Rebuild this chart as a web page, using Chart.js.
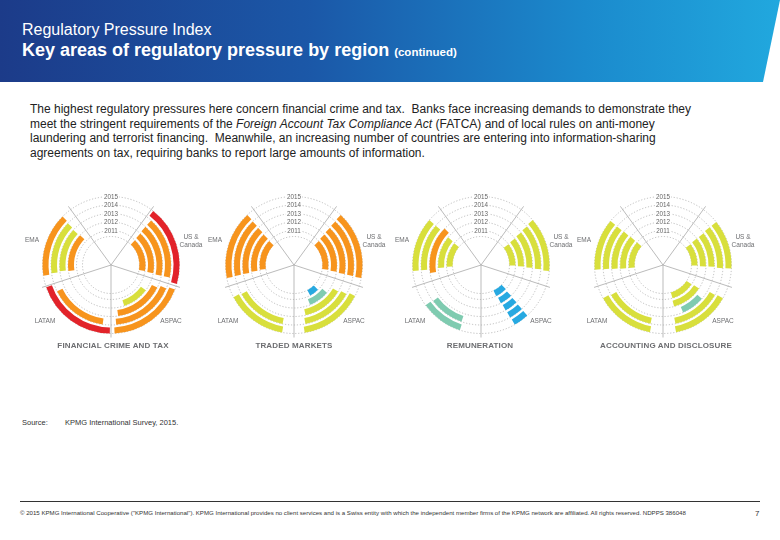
<!DOCTYPE html>
<html>
<head>
<meta charset="utf-8">
<title>Regulatory Pressure Index</title>
<script src="https://cdn.jsdelivr.net/npm/chart.js@4.4.1/dist/chart.umd.min.js"></script>
<style>
  body { margin: 0; background: #fff; font-family: "Liberation Sans", Arial, sans-serif; }
  #page { position: relative; width: 780px; height: 540px; overflow: hidden; }
  .banner { position: absolute; left: 0; top: 0; width: 780px; height: 82px;
    background: linear-gradient(90deg, #1c3b89 0%, #1b58a8 40%, #1b8acd 75%, #21a8de 100%);
    clip-path: polygon(0 0, 780px 0, 763px 82px, 0 82px); }
  .kicker { position: absolute; left: 22px; top: 21px; color: #fff; font-size: 16px; white-space: nowrap; }
  .title { position: absolute; left: 22px; top: 40px; color: #fff; font-size: 18px; font-weight: bold; white-space: nowrap; }
  .title small { font-size: 11.5px; }
  .intro { position: absolute; left: 30px; top: 102px; font-size: 12px; line-height: 14.7px; color: #222; white-space: nowrap; }
  canvas.wheel { position: absolute; }
  .region { position: absolute; font-size: 6.5px; line-height: 8.5px; color: #6d6e71; text-align: center; transform: translate(-50%, -50%); white-space: nowrap; }
  .wheel-title { position: absolute; top: 341px; font-size: 8px; font-weight: bold; color: #6d6e71; transform: translateX(-50%); white-space: nowrap; letter-spacing: 0.15px; }
  .source { position: absolute; top: 418px; font-size: 7.5px; color: #333; white-space: nowrap; }
  .rule { position: absolute; left: 20px; top: 501px; width: 740px; height: 1px; background: #333; }
  .legal { position: absolute; left: 20px; top: 509px; font-size: 6.1px; color: #333; white-space: nowrap; }
  .pageno { position: absolute; left: 755px; top: 509px; font-size: 8px; color: #333; }
</style>
</head>
<body>
<div id="page">
  <div class="banner"></div>
  <div class="kicker">Regulatory Pressure Index</div>
  <div class="title">Key areas of regulatory pressure by region <small>(continued)</small></div>
  <div class="intro">
    The highest regulatory pressures here concern financial crime and tax.&nbsp; Banks face increasing demands to demonstrate they<br>
    meet the stringent requirements of the <i>Foreign Account Tax Compliance Act</i> (FATCA) and of local rules on anti-money<br>
    laundering and terrorist financing.&nbsp; Meanwhile, an increasing number of countries are entering into information-sharing<br>
    agreements on tax, requiring banks to report large amounts of information.
  </div>
  <div class="source" style="left:22px">Source:</div>
  <div class="source" style="left:65px">KPMG International Survey, 2015.</div>
  <div class="rule"></div>
  <div class="legal">© 2015 KPMG International Cooperative ("KPMG International"). KPMG International provides no client services and is a Swiss entity with which the independent member firms of the KPMG network are affiliated. All rights reserved. NDPPS 386048</div>
  <div class="pageno">7</div>
</div>
<script>
const years = ["2011", "2012", "2013", "2014", "2015"];
const regions = ["US &<br>Canada", "ASPAC", "LATAM", "EMA"];
const titles = ["FINANCIAL CRIME AND TAX", "TRADED MARKETS", "REMUNERATION", "ACCOUNTING AND DISCLOSURE"];

// pressure level per region (rows: US & Canada, ASPAC, LATAM, EMA) and year (2011..2015)
// 0 = no data, 1 = low ... 5 = very high
const crimeLevels = [[4, 4, 4, 4, 5], [0, 3, 4, 4, 4], [0, 0, 0, 4, 5], [0, 4, 3, 3, 4]];
const tradedLevels = [[4, 4, 4, 4, 4], [1, 2, 3, 3, 3], [0, 0, 0, 3, 3], [4, 4, 4, 4, 4]];
const remunerationLevels = [[3, 3, 3, 3, 3], [1, 1, 1, 1, 1], [0, 0, 0, 2, 2], [3, 3, 4, 3, 3]];
const accountingLevels = [[3, 3, 3, 3, 3], [3, 3, 2, 3, 3], [0, 0, 0, 3, 3], [3, 3, 3, 3, 3]];

// degrees of arc covered by each region/year segment (out of 72 per region)
const crimeArcs = [[56, 58, 60, 60, 68], [0, 36, 56, 62, 66], [0, 0, 0, 56, 70], [0, 52, 50, 52, 54]];
const tradedArcs = [[52, 54, 56, 57, 58], [16, 28, 46, 50, 54], [0, 0, 0, 50, 52], [52, 54, 56, 57, 58]];
const remunerationArcs = [[38, 40, 42, 44, 46], [20, 17, 15, 14, 13], [0, 0, 0, 34, 36], [42, 44, 54, 46, 46]];
const accountingArcs = [[38, 40, 40, 42, 42], [40, 42, 26, 48, 50], [0, 0, 0, 48, 50], [46, 46, 45, 44, 44]];

const levelColors = ["rgba(0,0,0,0)", "#27a9e1", "#7fcbb0", "#d8df3c", "#f7941d", "#e2232a"];
const none = "rgba(0,0,0,0)";

const wheelX = [111, 294, 481, 663];
const wheelY = 265;
const titleX = [113, 294, 480, 666];
const SECTOR = 72;   // top sector (year labels) + 4 regions

function ringRadii(chart) {
    const radii = [];
    chart.data.datasets.forEach((ds, i) => {
        if (ds.year) {
            const arc = chart.getDatasetMeta(i).data[0];
            radii.push({ year: ds.year, r: arc.outerRadius, inner: arc.innerRadius });
        }
    });
    return radii;
}

const ringGrid = {
    id: "ringGrid",
    beforeDatasetsDraw(chart) {
        const ctx = chart.ctx;
        const arc = chart.getDatasetMeta(0).data[0];
        const cx = arc.x, cy = arc.y;
        const radii = ringRadii(chart);
        const circles = radii.map(d => d.r);
        circles.push(Math.min(...radii.map(d => d.inner)));
        ctx.save();
        ctx.strokeStyle = "#a3a3a3";
        ctx.lineWidth = 0.7;
        ctx.setLineDash([1.2, 1.8]);
        circles.forEach(r => {
            ctx.beginPath();
            ctx.arc(cx, cy, r, 0, Math.PI * 2);
            ctx.stroke();
        });
        ctx.setLineDash([]);
        ctx.strokeStyle = "#a9a9a9";
        ctx.lineWidth = 0.8;
        const len = Math.max(...circles) + 4;
        for (let k = 0; k < 5; k++) {
            const a = (chart.options.rotation + k * SECTOR - 90) * Math.PI / 180;
            ctx.beginPath();
            ctx.moveTo(cx, cy);
            ctx.lineTo(cx + Math.cos(a) * len, cy + Math.sin(a) * len);
            ctx.stroke();
        }
        ctx.restore();
    },
    afterDatasetsDraw(chart) {
        const ctx = chart.ctx;
        const arc = chart.getDatasetMeta(0).data[0];
        const cx = arc.x, cy = arc.y;
        ctx.save();
        ctx.font = "6.3px 'Liberation Sans', Arial, sans-serif";
        ctx.textAlign = "center";
        ctx.textBaseline = "middle";
        ringRadii(chart).forEach(d => {
            const w = ctx.measureText(d.year).width + 2;
            ctx.fillStyle = "#fff";
            ctx.fillRect(cx - w / 2, cy - d.r - 3.2, w, 6.4);
            ctx.fillStyle = "#666";
            ctx.fillText(d.year, cx, cy - d.r + 0.3);
        });
        ctx.restore();
    }
};

function ringDataset(levels, arcs, y) {
    const data = [SECTOR];
    const colors = [none];
    levels.forEach((row, r) => {
        const span = row[y] ? arcs[r][y] : 0;
        const pad = (SECTOR - span) / 2;
        data.push(pad, span, pad);
        colors.push(none, levelColors[row[y]], none);
    });
    return { year: years[y], data: data, backgroundColor: colors, borderWidth: 0, weight: 6 };
}

function drawWheel(index, levels, arcs) {
    const page = document.getElementById("page");
    const canvas = document.createElement("canvas");
    canvas.className = "wheel";
    canvas.width = 190;
    canvas.height = 160;
    canvas.style.left = (wheelX[index] - 95) + "px";
    canvas.style.top = (wheelY - 80) + "px";
    page.appendChild(canvas);

    // outer ring first: 2015 ... 2011, with thin empty rings between them
    const datasets = [];
    for (let y = years.length - 1; y >= 0; y--) {
        datasets.push(ringDataset(levels, arcs, y));
        if (y > 0) datasets.push({ data: [360], backgroundColor: [none], borderWidth: 0, weight: 2.5 });
    }

    new Chart(canvas.getContext("2d"), {
        type: "doughnut",
        data: { datasets: datasets },
        options: {
            responsive: false,
            animation: false,
            events: [],
            rotation: -SECTOR / 2,
            circumference: 360,
            cutout: 28.5,
            layout: { padding: { left: 26.5, right: 26.5, top: 11.5, bottom: 11.5 } },
            plugins: { legend: { display: false }, tooltip: { enabled: false } }
        },
        plugins: [ringGrid]
    });

    const offsets = [[80, -24.5], [60, 56], [-66, 56], [-79, -25]];
    regions.forEach((name, r) => {
        const label = document.createElement("div");
        label.className = "region";
        label.innerHTML = name;
        label.style.left = (wheelX[index] + offsets[r][0]) + "px";
        label.style.top = (wheelY + offsets[r][1]) + "px";
        page.appendChild(label);
    });

    const title = document.createElement("div");
    title.className = "wheel-title";
    title.textContent = titles[index];
    title.style.left = titleX[index] + "px";
    page.appendChild(title);
}

drawWheel(0, crimeLevels, crimeArcs);
drawWheel(1, tradedLevels, tradedArcs);
drawWheel(2, remunerationLevels, remunerationArcs);
drawWheel(3, accountingLevels, accountingArcs);
</script>
</body>
</html>
